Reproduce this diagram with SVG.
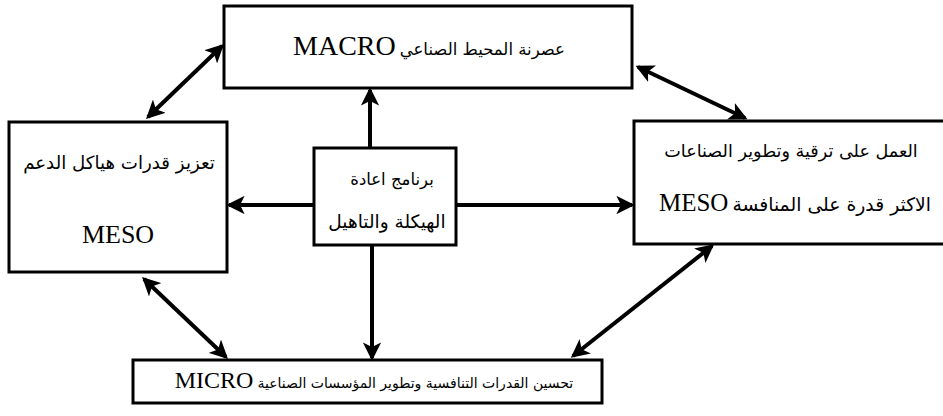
<svg xmlns="http://www.w3.org/2000/svg" width="943" height="416" viewBox="0 0 943 416">
<defs>
<style>
.box{fill:#fff;stroke:#000;stroke-width:3}
.ar{stroke:#000;stroke-width:4;fill:none}
.t{fill:#000;text-anchor:middle;direction:rtl}
.ab{font-family:"DejaVu Sans","Liberation Serif",sans-serif}
.lat{font-family:"Liberation Serif","Times New Roman",serif}
</style>
<marker id="ah" viewBox="0 0 10 10" refX="8.5" refY="5" markerWidth="4.6" markerHeight="4.6" orient="auto-start-reverse">
<path d="M0,0 L10,5 L0,10 L2.5,5 z" fill="#000"/>
</marker>
</defs>
<rect width="943" height="416" fill="#fff"/>
<g id="connectors">
<line class="ar" x1="148" y1="117" x2="222" y2="46" marker-start="url(#ah)" marker-end="url(#ah)"/>
<line class="ar" x1="638" y1="67" x2="745" y2="118" marker-start="url(#ah)" marker-end="url(#ah)"/>
<line class="ar" x1="370" y1="148" x2="370" y2="90" marker-end="url(#ah)"/>
<line class="ar" x1="314" y1="205" x2="229" y2="205" marker-end="url(#ah)"/>
<line class="ar" x1="456" y1="205" x2="632" y2="205" marker-end="url(#ah)"/>
<line class="ar" x1="372" y1="245" x2="372" y2="358" marker-end="url(#ah)"/>
<line class="ar" x1="144" y1="279" x2="226" y2="357" marker-start="url(#ah)" marker-end="url(#ah)"/>
<line class="ar" x1="573" y1="356" x2="712" y2="246" marker-start="url(#ah)" marker-end="url(#ah)"/>
</g>
<g id="macro">
<rect class="box" x="224" y="6" width="408" height="82"/>
<text class="t" x="429" y="55"><tspan class="ab" font-size="16.5">عصرنة المحيط الصناعي</tspan> <tspan class="lat" font-size="28">MACRO</tspan></text>
</g>
<g id="meso-left">
<rect class="box" x="9" y="122" width="218" height="150"/>
<text class="t ab" x="119" y="169" font-size="18.2">تعزيز قدرات هياكل الدعم</text>
<text class="t" x="118" y="243" font-size="26" font-family="Liberation Serif, serif">MESO</text>
</g>
<g id="meso-right">
<rect class="box" x="634" y="121" width="320" height="123"/>
<text class="t ab" x="791" y="157" font-size="17.6">العمل على ترقية وتطوير الصناعات</text>
<text class="t" x="795" y="211"><tspan class="ab" font-size="18.8">الاكثر قدرة على المنافسة</tspan> <tspan class="lat" font-size="25">MESO</tspan></text>
</g>
<g id="center">
<rect class="box" x="314" y="148" width="142" height="97"/>
<text class="t ab" x="392" y="185" font-size="16.5">برنامج اعادة</text>
<text class="t ab" x="387" y="228" font-size="18.5">الهيكلة والتاهيل</text>
</g>
<g id="micro">
<rect class="box" x="133" y="360" width="469" height="43"/>
<text class="t" x="374" y="388"><tspan class="ab" font-size="14">تحسين القدرات التنافسية وتطوير المؤسسات الصناعية</tspan> <tspan class="lat" font-size="24">MICRO</tspan></text>
</g>
</svg>
